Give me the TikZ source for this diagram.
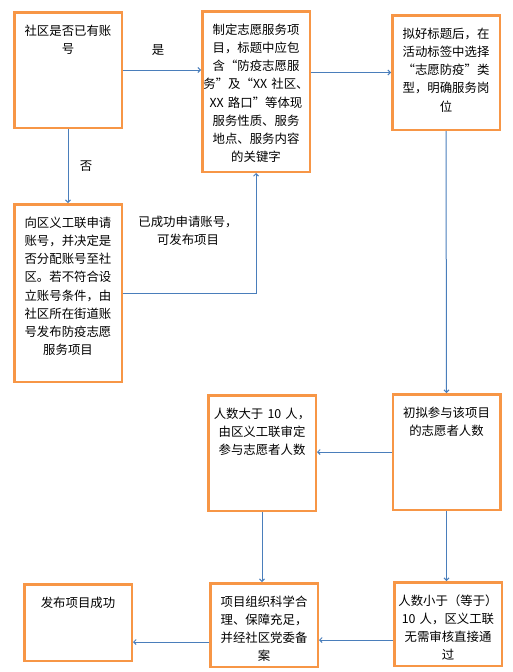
\documentclass[tikz,border=0pt]{standalone}
\usepackage{fontspec}
\setmainfont{Noto Sans CJK SC}
\definecolor{boxorange}{RGB}{247, 150, 70}
\definecolor{linkblue}{RGB}{74, 126, 187}
\usetikzlibrary{
  arrows.meta,
  positioning,
  calc
}

\begin{document}
\begin{tikzpicture}[
  x=1pt, y=-1pt,
  font=\fontsize{12.4pt}{18.2pt}\selectfont,
  stepbox/.style={
    draw=boxorange, line width=2.5pt, fill=white,
    text width=106pt, inner xsep=0.75pt, inner ysep=7pt,
    align=center, text height=16pt, text depth=#1
  },
  arrow/.style={
    -{Straight Barb[length=2.5pt, width=5pt]},
    line width=1pt, draw=linkblue
  },
  tag/.style={align=center, inner sep=1pt}
]
\useasboundingbox (0,0) rectangle (513,672);

% boxes
\node[stepbox=85.5pt] (hasacct) at (68, 70) {社区是否已有账\\号};
\node[stepbox=130.5pt] (draft) at (256, 91.5) {%
  制定志愿服务项\\目，标题中应包\\含“防疫志愿服\\务”及“XX 社区、\\XX 路口”等体现\\服务性质、服务\\地点、服务内容\\的关键字};
\node[stepbox=84.5pt] (label) at (446, 72.5) {%
  拟好标题后，在\\活动标签中选择\\“志愿防疫”类\\型，明确服务岗\\位};
\node[stepbox=147.5pt] (apply) at (68, 293) {%
  向区义工联申请\\账号，并决定是\\否分配账号至社\\区。若不符合设\\立账号条件，由\\社区所在街道账\\号发布防疫志愿\\服务项目};
\node[stepbox=85.5pt] (count) at (446.5, 452) {初拟参与该项目\\的志愿者人数};
\node[stepbox=85.5pt] (many) at (262, 453) {%
  人数大于 10 人，\\由区义工联审定\\参与志愿者人数};
\node[stepbox=53.5pt] (few) at (448, 624) {%
  人数小于（等于）\\10 人，区义工联\\无需审核直接通\\过};
\node[stepbox=53.5pt] (record) at (264, 625) {%
  项目组织科学合\\理、保障充足，\\并经社区党委备\\案};
\node[stepbox=46.5pt] (done) at (78, 622.5) {发布项目成功};

% labels
\node[tag] (yes) at (158, 50) {是};
\node[tag] (no) at (86, 166) {否};
\node[tag] (granted) at (188, 231) {已成功申请账号，\\可发布项目};

% connectors
\draw[arrow] (hasacct.east) -- (hasacct.east -| draft.west);
\draw[arrow] (hasacct.south) -- (apply.north);
\draw[arrow] (apply.east) -| (draft.south);
\draw[arrow] (draft.east |- label.west) -- (label.west);
\draw[arrow] (label.south) -- (count.north);
\draw[arrow] (count.west) -- (count.west -| many.east);
\draw[arrow] (count.south) -- (count.south |- few.north);
\draw[arrow] (many.south) -- (many.south |- record.north);
\draw[arrow] ([yshift=-16pt]few.west) -- ([yshift=-16pt]few.west -| record.east);
\draw[arrow] ([yshift=-17pt]record.west) -- ([yshift=-17pt]record.west -| done.east);

\end{tikzpicture}
\end{document}
